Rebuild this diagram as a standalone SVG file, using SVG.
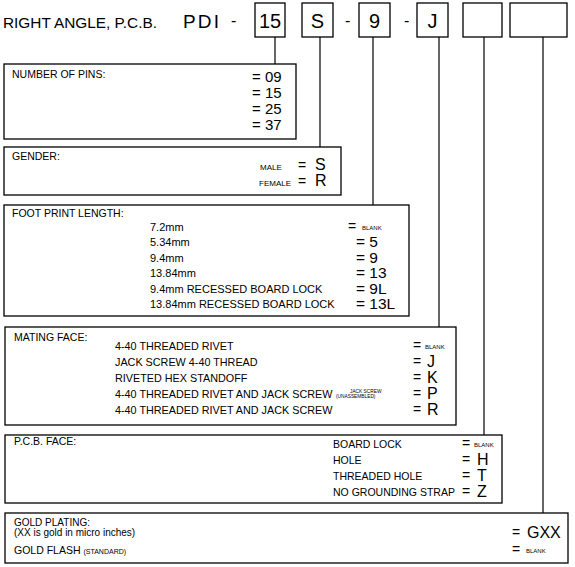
<svg xmlns="http://www.w3.org/2000/svg" width="575" height="567" viewBox="0 0 575 567">
<style>
text{font-family:"Liberation Sans",Arial,sans-serif;fill:#000}
.box{fill:none;stroke:#000;stroke-width:1.3}
.ln{stroke:#000;stroke-width:1.2;fill:none}
.lbl{font-size:10.5px}
.it{font-size:10.8px}
.v{font-size:16px}
.fv{font-size:15.5px}
.eq{font-size:14px}
.sm{font-size:6px}
.tiny{font-size:4.8px}
.hd{font-size:20px}
</style>
<rect width="575" height="567" fill="#fff"/>
<g id="header">
<text x="3" y="28" style="font-size:14.5px" textLength="154" lengthAdjust="spacingAndGlyphs">RIGHT ANGLE, P.C.B.</text>
<text x="183" y="28" style="font-size:19px;letter-spacing:2.2px">PDI</text>
<text x="231" y="26" style="font-size:16px">-</text>
<rect class="box" x="255" y="3" width="30" height="34"/>
<text class="hd" x="270" y="28" text-anchor="middle">15</text>
<rect class="box" x="302" y="3" width="31" height="34"/>
<text class="hd" x="317.5" y="28" text-anchor="middle">S</text>
<text x="345" y="26" style="font-size:16px">-</text>
<rect class="box" x="359" y="3" width="31" height="34"/>
<text class="hd" x="374.5" y="28" text-anchor="middle">9</text>
<text x="404" y="26" style="font-size:16px">-</text>
<rect class="box" x="417" y="3" width="31" height="34"/>
<text class="hd" x="432.5" y="28" text-anchor="middle">J</text>
<rect class="box" x="463" y="3" width="39" height="34"/>
<rect class="box" x="510" y="3" width="57" height="34"/>
</g>
<g id="connectors">
<line class="ln" x1="275" y1="37" x2="275" y2="64"/>
<line class="ln" x1="320" y1="37" x2="320" y2="147"/>
<line class="ln" x1="373" y1="37" x2="373" y2="205"/>
<line class="ln" x1="439" y1="37" x2="439" y2="327"/>
<line class="ln" x1="484" y1="37" x2="484" y2="435"/>
<line class="ln" x1="543" y1="37" x2="543" y2="513"/>
</g>
<g id="pins">
<rect class="box" x="4" y="64" width="292" height="75"/>
<text class="lbl" x="12" y="78">NUMBER OF PINS:</text>
<text x="252" y="82" style="font-size:15px">= 09</text>
<text x="252" y="98" style="font-size:15px">= 15</text>
<text x="252" y="114" style="font-size:15px">= 25</text>
<text x="252" y="130" style="font-size:15px">= 37</text>
</g>
<g id="gender">
<rect class="box" x="4" y="147" width="337" height="48"/>
<text class="lbl" x="12" y="160">GENDER:</text>
<text x="260" y="170" style="font-size:8px">MALE</text>
<text class="eq" x="298" y="170">=</text>
<text x="315" y="170" style="font-size:16px">S</text>
<text x="259" y="186" style="font-size:8px">FEMALE</text>
<text class="eq" x="298" y="186">=</text>
<text x="315" y="186" style="font-size:16px">R</text>
</g>
<g id="footprint">
<rect class="box" x="4" y="205" width="405" height="111"/>
<text class="lbl" x="12" y="217">FOOT PRINT LENGTH:</text>
<text class="it" x="150" y="231" style="font-size:11px">7.2mm</text>
<text class="it" x="150" y="246" style="font-size:11px">5.34mm</text>
<text class="it" x="150" y="262" style="font-size:11px">9.4mm</text>
<text class="it" x="150" y="277" style="font-size:11px">13.84mm</text>
<text class="it" x="150" y="293" style="font-size:11px">9.4mm RECESSED BOARD LOCK</text>
<text class="it" x="150" y="308" style="font-size:11px">13.84mm RECESSED BOARD LOCK</text>
<text class="eq" x="348" y="231">=</text><text class="sm" x="362" y="230">BLANK</text>
<text class="fv" x="356" y="247">= 5</text>
<text class="fv" x="356" y="262.5">= 9</text>
<text class="fv" x="356" y="278">= 13</text>
<text class="fv" x="356" y="293.5">= 9L</text>
<text class="fv" x="356" y="309">= 13L</text>
</g>
<g id="mating">
<rect class="box" x="5" y="327" width="451" height="98"/>
<text class="lbl" x="14" y="341">MATING FACE:</text>
<text class="it" x="115" y="350">4-40 THREADED RIVET</text>
<text class="it" x="115" y="366">JACK SCREW 4-40 THREAD</text>
<text class="it" x="115" y="382">RIVETED HEX STANDOFF</text>
<text class="it" x="115" y="398">4-40 THREADED RIVET AND JACK SCREW</text>
<text class="tiny" x="350" y="392.5">JACK SCREW</text>
<text class="tiny" x="336" y="398">(UNASSEMBLED)</text>
<text class="it" x="115" y="414">4-40 THREADED RIVET AND JACK SCREW</text>
<text class="eq" x="413" y="350">=</text><text class="sm" x="425" y="349">BLANK</text>
<text class="eq" x="413" y="366">=</text><text class="v" x="427" y="367">J</text>
<text class="eq" x="413" y="382">=</text><text class="v" x="427" y="383">K</text>
<text class="eq" x="413" y="398">=</text><text class="v" x="427" y="399">P</text>
<text class="eq" x="413" y="414">=</text><text class="v" x="427" y="415">R</text>
</g>
<g id="pcb">
<rect class="box" x="5" y="435" width="497" height="68"/>
<text class="lbl" x="14" y="445">P.C.B. FACE:</text>
<text class="lbl" x="333" y="448">BOARD LOCK</text>
<text class="lbl" x="333" y="464">HOLE</text>
<text class="lbl" x="333" y="480">THREADED HOLE</text>
<text class="lbl" x="333" y="496">NO GROUNDING STRAP</text>
<text class="eq" x="462" y="448">=</text><text class="sm" x="474" y="447">BLANK</text>
<text class="eq" x="462" y="464">=</text><text class="v" x="477" y="465">H</text>
<text class="eq" x="462" y="480">=</text><text class="v" x="477" y="481">T</text>
<text class="eq" x="462" y="496">=</text><text class="v" x="477" y="497">Z</text>
</g>
<g id="gold">
<rect class="box" x="5" y="513" width="563" height="50"/>
<text class="lbl" x="14" y="526" style="font-size:10px">GOLD PLATING:</text>
<text class="lbl" x="14" y="536" style="font-size:10px">(XX is gold in micro inches)</text>
<text class="lbl" x="14" y="554">GOLD FLASH <tspan style="font-size:7px">(STANDARD)</tspan></text>
<text class="eq" x="512" y="537">=</text><text class="v" x="527" y="538">GXX</text>
<text class="eq" x="512" y="554">=</text><text class="sm" x="526" y="553">BLANK</text>
</g>
</svg>
